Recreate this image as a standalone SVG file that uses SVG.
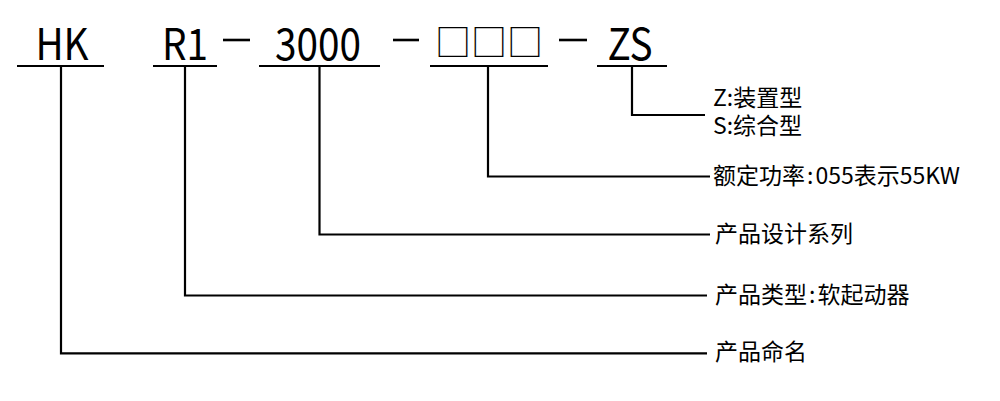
<svg xmlns="http://www.w3.org/2000/svg" width="1000" height="401" viewBox="0 0 1000 401">
  <style>
    .big { font-family: "Noto Sans CJK SC", "Noto Sans", sans-serif; font-size: 44px; fill: #000; text-anchor: middle; }
    .box { font-family: "Noto Sans CJK SC", sans-serif; font-size: 36px; fill: #000; text-anchor: middle; }
    .lbl { font-family: "Noto Sans CJK SC", "Noto Sans", sans-serif; font-size: 23px; fill: #000; }
    .ln { stroke: #000; stroke-width: 2.2; fill: none; }
    .dash { stroke: #000; stroke-width: 2.6; }
  </style>
  <rect width="1000" height="401" fill="#fff"/>

  <g id="code">
    <g id="seg-hk">
      <text class="big" transform="translate(62,60) scale(0.88,1)" x="0" y="0">HK</text>
      <line class="ln" x1="17" y1="66" x2="104" y2="66"/>
    </g>
    <g id="seg-r1">
      <text class="big" transform="translate(185,60) scale(0.88,1)" x="0" y="0">R1</text>
      <line class="ln" x1="153" y1="66" x2="217" y2="66"/>
    </g>
    <line class="dash" x1="223" y1="40" x2="250" y2="40"/>
    <g id="seg-3000">
      <text class="big" transform="translate(318,60) scale(0.88,1)" x="0" y="0">3000</text>
      <line class="ln" x1="259" y1="66" x2="380" y2="66"/>
    </g>
    <line class="dash" x1="393" y1="40" x2="419" y2="40"/>
    <g id="seg-power">
      <text class="box" x="489" y="56">□□□</text>
      <line class="ln" x1="430" y1="66" x2="548" y2="66"/>
    </g>
    <line class="dash" x1="559" y1="40" x2="587" y2="40"/>
    <g id="seg-zs">
      <text class="big" transform="translate(630,60) scale(0.88,1)" x="0" y="0">ZS</text>
      <line class="ln" x1="597" y1="66" x2="667" y2="66"/>
    </g>
  </g>

  <g id="connectors">
    <polyline class="ln" points="632,66 632,115 705,115"/>
    <polyline class="ln" points="488,66 488,176.5 710,176.5"/>
    <polyline class="ln" points="319.5,66 319.5,234.5 710,234.5"/>
    <polyline class="ln" points="185,66 185,295.5 707,295.5"/>
    <polyline class="ln" points="61,66 61,353.3 707,353.3"/>
  </g>

  <g id="label-zs">
    <text class="lbl"><tspan x="713" y="106">Z:装置型</tspan><tspan x="713" y="134">S:综合型</tspan></text>
  </g>
  <g id="label-power">
    <text class="lbl" x="713" y="183.5">额定功率<tspan dx="2">:</tspan><tspan dx="2">055表示55KW</tspan></text>
  </g>
  <g id="label-series">
    <text class="lbl" x="715" y="242">产品设计系列</text>
  </g>
  <g id="label-type">
    <text class="lbl" x="715" y="302.5">产品类型<tspan dx="2">:</tspan><tspan dx="2">软起动器</tspan></text>
  </g>
  <g id="label-name">
    <text class="lbl" x="715" y="360">产品命名</text>
  </g>
</svg>
